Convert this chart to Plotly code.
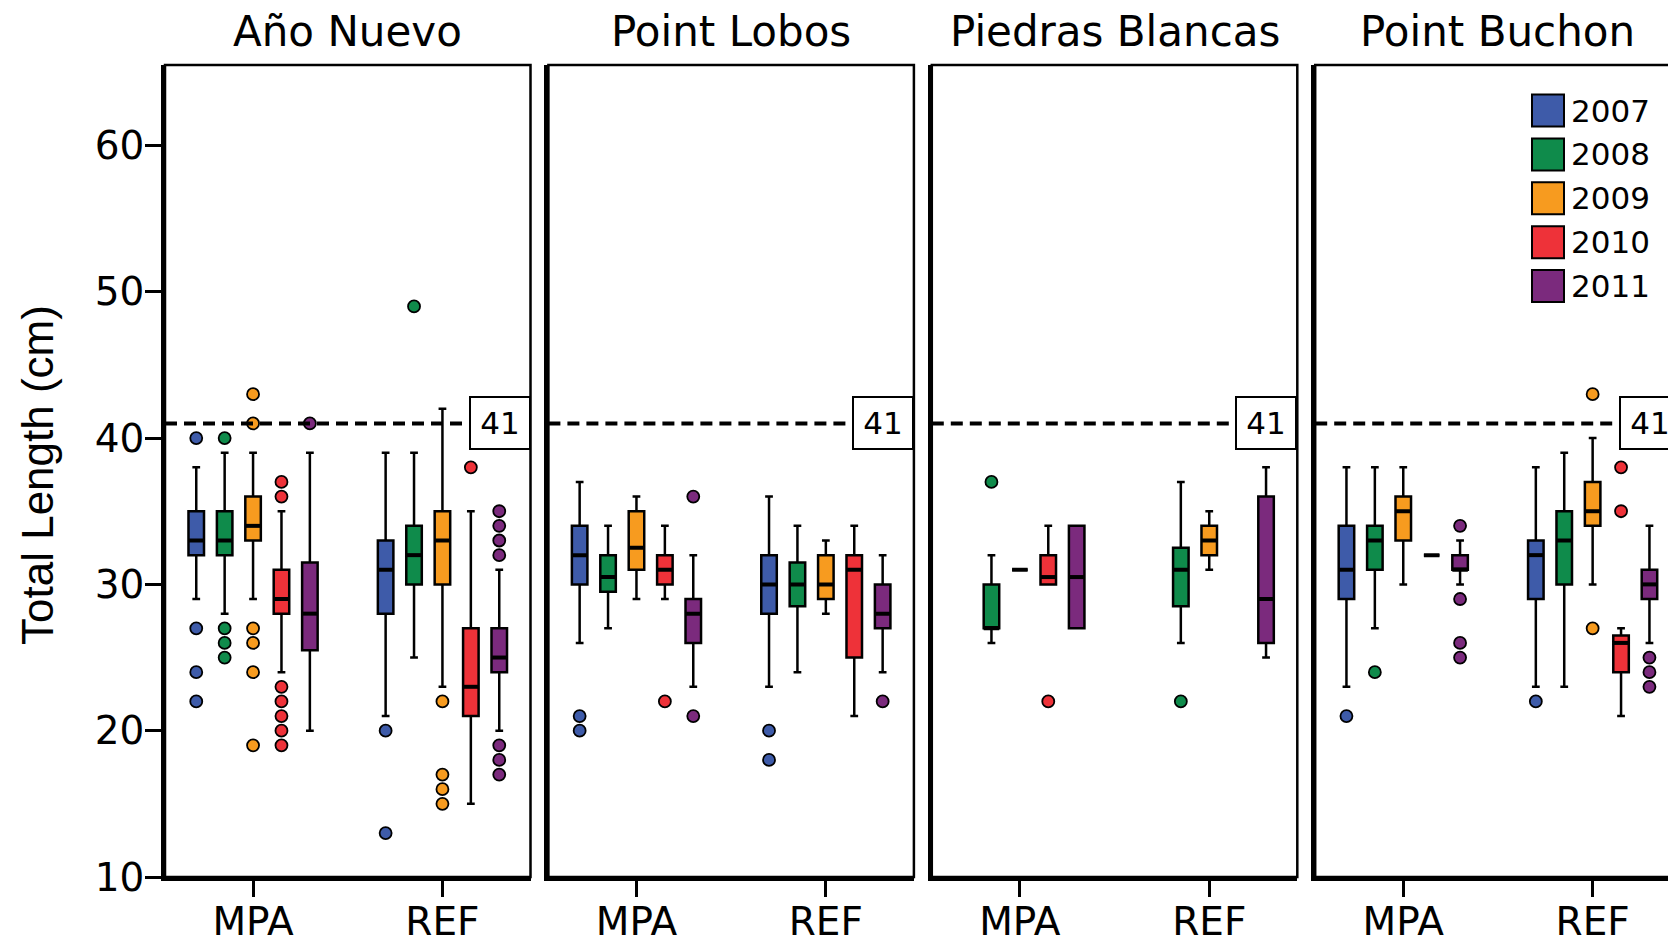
import plotly.graph_objects as go

# ---------------- data ----------------
SITES = ["Año Nuevo", "Point Lobos", "Piedras Blancas", "Point Buchon"]
GROUPS = ["MPA", "REF"]
YEARS = ["2007", "2008", "2009", "2010", "2011"]
COLORS = ["#3E5BA9", "#0F8B4B", "#F79B1F", "#EE3239", "#7B2A7D"]
TICKS_Y = [10, 20, 30, 40, 50, 60]
LIMIT = 41

# order of entries: site -> group (MPA, REF) -> year (2007..2011); None = no data
LOWER = [
    29, 28, 29, 24, 20,      21, 25, 23, 15, 20,      # Año Nuevo
    26, 27, 29, 29, 23,      23, 24, 28, 21, 24,      # Point Lobos
    None, 26, 31, 30, 27,    None, 26, 31, None, 25,  # Piedras Blancas
    23, 27, 30, 32, 30,      23, 23, 30, 21, 26,      # Point Buchon
]
Q1 = [
    32, 32, 33, 28, 25.5,    28, 30, 30, 21, 24,
    30, 29.5, 31, 30, 26,    28, 28.5, 29, 25, 27,
    None, 27, 31, 30, 27,    None, 28.5, 32, None, 26,
    29, 31, 33, 32, 31,      29, 30, 34, 24, 29,
]
MEDIAN = [
    33, 33, 34, 29, 28,      31, 32, 33, 23, 25,
    32, 30.5, 32.5, 31, 28,  30, 30, 30, 31, 28,
    None, 27, 31, 30.5, 30.5, None, 31, 33, None, 29,
    31, 33, 35, 32, 31,      32, 33, 35, 26, 30,
]
Q3 = [
    35, 35, 36, 31, 31.5,    33, 34, 35, 27, 27,
    34, 32, 35, 32, 29,      32, 31.5, 32, 32, 30,
    None, 30, 31, 32, 34,    None, 32.5, 34, None, 36,
    34, 34, 36, 32, 32,      33, 35, 37, 26.5, 31,
]
UPPER = [
    38, 39, 39, 35, 39,      39, 39, 42, 35, 31,
    37, 34, 36, 34, 32,      36, 34, 33, 34, 32,
    None, 32, 31, 34, 34,    None, 37, 35, None, 38,
    38, 38, 38, 32, 33,      38, 39, 40, 27, 34,
]
OUTLIERS = [
    [40, 27, 24, 22], [40, 27, 26, 25], [43, 41, 27, 26, 24, 19], [37, 36, 23, 22, 21, 20, 19], [41],
    [20, 13], [49], [22, 17, 16, 15], [38], [35, 34, 33, 32, 19, 18, 17],
    [21, 20], [], [], [22], [36, 21],
    [20, 18], [], [], [], [22],
    [], [37], [], [22], [],
    [], [22], [], [], [],
    [21], [24], [], [], [34, 29, 26, 25],
    [22], [], [43, 27], [38, 35], [25, 24, 23],
]

# ---------------- layout geometry (pixels, in page coordinates) ----------------
W, H = 1676, 942
OFF = 8  # page body margin
FONT = "DejaVu Sans, Liberation Sans, Arial, sans-serif"
FONT_Y = "Liberation Sans, Arial, Helvetica, sans-serif"
PANEL_L0, PANEL_STEP, PANEL_W = 165.0, 383.4, 365.5
TOP_PX, BOT_PX = 65.0, 877.0
XR = (-0.465, 1.465)
OFFSETS = [-0.3, -0.15, 0.0, 0.15, 0.3]
BOX_W = 0.082


def px(x):
    return (x - OFF) / W


def py(y):
    return 1 - (y - OFF) / H


fig = go.Figure()
shapes = []
annotations = []

for s, site in enumerate(SITES):
    n = "" if s == 0 else str(s + 1)
    xa, ya = "x" + n, "y" + n
    left = PANEL_L0 + PANEL_STEP * s
    right = left + PANEL_W

    med_x, med_y = [], []
    for g in range(2):
        for yi in range(5):
            k = s * 10 + g * 5 + yi
            if Q1[k] is None:
                continue
            pos = g + OFFSETS[yi]
            fig.add_trace(go.Box(
                x=[pos], q1=[Q1[k]], median=[MEDIAN[k]], q3=[Q3[k]],
                lowerfence=[LOWER[k]], upperfence=[UPPER[k]],
                orientation="v", width=BOX_W, whiskerwidth=0.5,
                fillcolor=COLORS[yi], line=dict(color="black", width=2.5),
                boxpoints=False, showlegend=False, hoverinfo="skip",
                xaxis=xa, yaxis=ya,
            ))
            med_x += [pos - BOX_W / 2, pos + BOX_W / 2, None]
            med_y += [MEDIAN[k], MEDIAN[k], None]
            if OUTLIERS[k]:
                fig.add_trace(go.Scatter(
                    x=[pos] * len(OUTLIERS[k]), y=OUTLIERS[k], mode="markers",
                    marker=dict(size=12, color=COLORS[yi],
                                line=dict(color="black", width=1.8)),
                    showlegend=False, hoverinfo="skip", xaxis=xa, yaxis=ya,
                ))
    fig.add_trace(go.Scatter(
        x=med_x, y=med_y, mode="lines", line=dict(color="black", width=4),
        showlegend=False, hoverinfo="skip", xaxis=xa, yaxis=ya,
    ))

    fig.update_layout(**{
        ("xaxis" + n): dict(
            domain=[px(left), min(px(right), 1.0)], range=list(XR),
            tickvals=[0, 1], ticktext=GROUPS, ticks="outside", ticklen=16,
            tickwidth=2.5, tickcolor="black", showline=True, linewidth=3.5,
            linecolor="black", showgrid=False, zeroline=False, anchor=ya,
            automargin=False, ticklabelstandoff=-9,
            tickfont=dict(family=FONT, size=39, color="black"),
        ),
        ("yaxis" + n): dict(
            domain=[py(BOT_PX), py(TOP_PX)], range=[10, 65.5],
            tickvals=TICKS_Y, ticks="outside" if s == 0 else "",
            showticklabels=(s == 0), ticklen=16, tickwidth=2.5,
            tickcolor="black", showline=True, linewidth=3.5, linecolor="black",
            showgrid=False, zeroline=False, anchor=xa, automargin=False,
            ticklabelstandoff=-7,
            tickfont=dict(family=FONT, size=39, color="black"),
        ),
    })

    # frame (top and right)
    shapes.append(dict(type="rect", xref="paper", yref="paper",
                       x0=px(left), x1=px(right), y0=py(BOT_PX), y1=py(TOP_PX),
                       line=dict(color="black", width=2.5), layer="above"))
    # limit line
    shapes.append(dict(type="line", xref=xa + " domain", yref=ya,
                       x0=0, x1=1, y0=LIMIT, y1=LIMIT, layer="above",
                       line=dict(color="black", width=4, dash="12px,7px")))
    annotations.append(dict(
        x=1, xref=xa + " domain", y=LIMIT, yref=ya, xanchor="right",
        yanchor="middle", text=str(LIMIT), showarrow=False,
        font=dict(family=FONT, size=31, color="black"), bgcolor="white",
        bordercolor="black", borderwidth=2, borderpad=0, width=58, height=50,
    ))
    # site title
    annotations.append(dict(
        x=px((left + right) / 2), y=py(32), xref="paper", yref="paper",
        xanchor="center", yanchor="middle", text=site, showarrow=False,
        font=dict(family=FONT, size=42, color="black"),
    ))

# y title
annotations.append(dict(
    x=px(37), y=py(475), xref="paper", yref="paper", xanchor="center",
    yanchor="middle", text="Total Length (cm)", textangle=-90, showarrow=False,
    font=dict(family=FONT_Y, size=44, color="black"),
))

# legend
for i, (yr, col) in enumerate(zip(YEARS, COLORS)):
    cy = 110.5 + 43.9 * i
    shapes.append(dict(type="rect", xref="paper", yref="paper",
                       x0=px(1532), x1=px(1564), y0=py(cy + 16), y1=py(cy - 16),
                       fillcolor=col, line=dict(color="black", width=2)))
    annotations.append(dict(
        x=px(1569), y=py(cy), xref="paper", yref="paper", xanchor="left",
        yanchor="middle", text=yr, showarrow=False,
        font=dict(family=FONT, size=31, color="black"),
    ))

fig.update_layout(
    width=W, height=H, margin=dict(l=0, r=0, t=0, b=0),
    paper_bgcolor="white", plot_bgcolor="white",
    shapes=shapes, annotations=annotations, showlegend=False,
)

fig.write_html("out.html")
